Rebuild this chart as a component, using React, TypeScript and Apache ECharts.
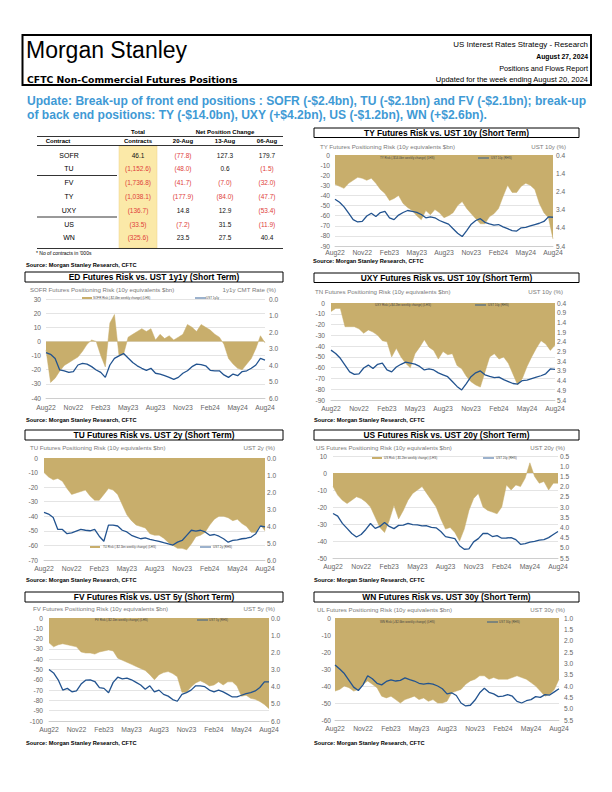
import React, { useEffect, useRef } from "react";
import * as echarts from "echarts";

const FONT = '"Liberation Sans", Arial, Helvetica, sans-serif';
const GOLD = "#c8ae6c";
const BLUE = "#22538f";
const RED = "#e0403a";
const TEXT_BLUE = "#3f9ad5";
const AXIS_GREY = "#666666";

// ---------- x axis (half-monthly observations) ----------
const DATES = [
  "2022-08-15", "2022-09-01", "2022-09-15", "2022-10-01", "2022-10-15", "2022-11-01", "2022-11-15", "2022-12-01", "2022-12-15",
  "2023-01-01", "2023-01-15", "2023-02-01", "2023-02-15", "2023-03-01", "2023-03-15", "2023-04-01", "2023-04-15", "2023-05-01",
  "2023-05-15", "2023-06-01", "2023-06-15", "2023-07-01", "2023-07-15", "2023-08-01", "2023-08-15", "2023-09-01", "2023-09-15",
  "2023-10-01", "2023-10-15", "2023-11-01", "2023-11-15", "2023-12-01", "2023-12-15", "2024-01-01", "2024-01-15", "2024-02-01",
  "2024-02-15", "2024-03-01", "2024-03-15", "2024-04-01", "2024-04-15", "2024-05-01", "2024-05-15", "2024-06-01", "2024-06-15",
  "2024-07-01", "2024-07-15", "2024-08-01", "2024-08-15",
];
const MONTH_NAMES = ["Jan", "Feb", "Mar", "Apr", "May", "Jun", "Jul", "Aug", "Sep", "Oct", "Nov", "Dec"];

// ---------- positioning risk ($bn, 10y equivalents) ----------
const SOFR_RISK = [-6, -29, -26, -21, -17, -15, -13, -11, -7, -2, 1, 0, -10, -18, 13, 19, -10, -9, 3, 5, 7, 9, 7, 9, 1, 5, 2, 4, 1, 3, 5, 12, 10, 7, 12, 10, 8, 5, 3, -2, -12, -16, -19, -20, -16, -12, -5, 4, -1];
const TY_RISK = [-29, -31, -33, -28, -25, -22, -23, -25, -23, -28, -34, -38, -45, -43, -40, -48, -52, -55, -60, -64, -55, -59, -54, -57, -62, -60, -57, -50, -46, -53, -58, -63, -68, -68, -61, -58, -53, -41, -30, -37, -37, -31, -28, -30, -34, -48, -57, -62, -83];
const UXY_RISK = [-8, -5, -5, -22, -22, -22, -24, -28, -25, -27, -30, -35, -36, -50, -42, -50, -56, -60, -47, -41, -34, -41, -44, -52, -45, -48, -47, -58, -61, -68, -73, -76, -78, -64, -50, -47, -52, -50, -56, -66, -76, -70, -59, -50, -42, -35, -38, -44, -39];
const TU_RISK = [-10, -13, -15, -14, -16, -21, -25, -24, -23, -22, -26, -29, -29, -25, -21, -22, -25, -32, -39, -43, -46, -47, -48, -52, -53, -53, -55, -58, -60, -62, -62, -63, -59, -54, -53, -51, -46, -42, -40, -40, -41, -43, -42, -45, -47, -51, -51, -46, -50];
const US_RISK = [-8, -13, -16, -18, -16, -14, -15, -17, -20, -26, -32, -35, -28, -19, -27, -22, -16, -12, -10, -8, -12, -16, -20, -27, -33, -32, -35, -40, -33, -22, -15, -12, -20, -22, -23, -24, -20, -7, -10, -7, -8, -3, 6, -2, -6, -5, -10, -6, -6];
const FV_RISK = [-24, -28, -26, -25, -26, -27, -28, -33, -34, -34, -35, -33, -32, -31, -32, -39, -41, -43, -45, -47, -49, -51, -55, -60, -55, -53, -52, -54, -57, -72, -72, -67, -63, -61, -63, -66, -65, -62, -65, -62, -62, -66, -76, -75, -78, -79, -81, -84, -88];
const WN_RISK = [-43, -42, -40, -41, -43, -42, -39, -37, -39, -41, -46, -47, -46, -48, -50, -48, -47, -46, -48, -47, -49, -48, -50, -50, -49, -44, -43, -42, -39, -37, -36, -34, -34, -36, -35, -36, -36, -36, -35, -34, -35, -36, -38, -40, -43, -46, -45, -42, -36];

// ---------- rates (%) ----------
const UST_1Y1Y = [3.25, 3.35, 3.6, 4.3, 4.35, 4.45, 4.4, 4.0, 3.9, 3.95, 4.1, 4.3, 4.45, 4.75, 4.0, 3.6, 3.45, 3.3, 3.58, 3.85, 4.05, 4.2, 4.32, 4.2, 4.5, 4.55, 4.65, 4.75, 4.87, 4.75, 4.5, 4.35, 4.1, 3.95, 3.98, 4.05, 4.32, 4.35, 4.35, 4.6, 4.75, 4.55, 4.65, 4.4, 4.35, 4.2, 4.0, 3.6, 3.7];
const UST_10Y = [2.83, 3.0, 3.25, 3.6, 3.95, 4.08, 4.05, 3.75, 3.6, 3.78, 3.56, 3.5, 3.85, 3.95, 3.7, 3.56, 3.45, 3.5, 3.55, 3.67, 3.85, 3.8, 3.85, 4.0, 4.1, 4.2, 4.45, 4.7, 4.88, 4.55, 4.2, 4.0, 3.9, 4.1, 4.18, 4.25, 4.22, 4.35, 4.45, 4.55, 4.58, 4.4, 4.38, 4.3, 4.22, 4.15, 4.05, 3.8, 3.82];
const UST_2Y = [3.2, 3.3, 3.5, 4.2, 4.2, 4.45, 4.4, 4.3, 4.2, 4.25, 4.28, 4.2, 4.6, 4.9, 3.95, 3.95, 4.0, 4.25, 4.35, 4.55, 4.65, 4.75, 4.7, 4.78, 4.85, 4.9, 4.98, 5.05, 5.12, 4.95, 4.85, 4.55, 4.25, 4.3, 4.25, 4.35, 4.55, 4.5, 4.6, 4.75, 4.95, 4.85, 4.82, 4.75, 4.72, 4.65, 4.45, 4.0, 4.05];
const UST_20Y = [3.32, 3.45, 3.8, 4.05, 4.3, 4.47, 4.35, 4.1, 3.81, 4.05, 3.95, 3.76, 3.95, 4.06, 3.9, 3.89, 3.8, 3.86, 3.88, 3.93, 3.92, 4.0, 4.02, 4.2, 4.45, 4.5, 4.55, 4.9, 5.07, 5.05, 4.71, 4.55, 4.3, 4.3, 4.45, 4.4, 4.53, 4.52, 4.5, 4.6, 4.83, 4.8, 4.72, 4.68, 4.62, 4.6, 4.5, 4.35, 4.2];
const UST_5Y = [3.0, 3.2, 3.6, 4.2, 4.1, 4.3, 4.25, 3.85, 3.62, 3.6, 3.7, 4.05, 4.1, 4.35, 3.75, 3.45, 3.55, 3.5, 3.6, 3.75, 3.9, 4.15, 3.95, 4.3, 4.2, 4.45, 4.55, 4.75, 4.85, 4.45, 4.35, 4.2, 3.95, 3.95, 4.0, 4.2, 4.3, 4.2, 4.3, 4.45, 4.6, 4.6, 4.5, 4.4, 4.35, 4.25, 4.05, 3.72, 3.72];
const UST_30Y = [3.07, 3.25, 3.45, 3.75, 4.05, 4.2, 3.95, 3.55, 3.68, 3.88, 3.95, 3.8, 3.73, 3.78, 3.75, 3.64, 3.72, 3.78, 3.88, 3.92, 3.88, 3.92, 4.0, 4.12, 4.35, 4.3, 4.42, 4.75, 4.88, 4.85, 4.62, 4.3, 4.1, 4.28, 4.35, 4.47, 4.45, 4.38, 4.45, 4.68, 4.75, 4.65, 4.6, 4.47, 4.5, 4.38, 4.4, 4.26, 4.12];

// ---------- right-axis tick labels ----------
const R_TICKS_TY = [0.4, 1.4, 2.4, 3.4, 4.4, 5.4];
const R_TICKS_UXY = [0.4, 0.9, 1.4, 1.9, 2.4, 2.9, 3.4, 3.9, 4.4, 4.9, 5.4];
const R_TICKS_0_6 = [0, 1, 2, 3, 4, 5, 6];
const R_TICKS_20Y = [0.5, 1.0, 1.5, 2.0, 2.5, 3.0, 3.5, 4.0, 4.5, 5.0, 5.5];
const R_TICKS_30Y = [1.0, 1.5, 2.0, 2.5, 3.0, 3.5, 4.0, 4.5, 5.0, 5.5];

// ---------- table ----------
const CONTRACTS = ["SOFR", "TU", "FV", "TY", "UXY", "US", "WN"];
const TOTAL_CONTRACTS = [46.1, -1152.6, -1736.8, -1038.1, -136.7, -33.5, -325.6];
const CHG_20AUG = [-77.8, -48.0, -41.7, -177.9, 14.8, -7.2, 23.5];
const CHG_13AUG = [127.3, 0.6, -7.0, -84.0, 12.9, 31.5, 27.5];
const CHG_06AUG = [179.7, -1.5, -32.0, -47.7, -53.4, -11.9, 40.4];
const CHG_HEADERS = ["20-Aug", "13-Aug", "06-Aug"];

const SOURCE = "Source: Morgan Stanley Research, CFTC";

type Panel = {
  title: string; sub: string; rTitle: string; riskName: string; rateName: string;
  risk: number[]; rate: number[]; lMin: number; lMax: number; rMin: number; rMax: number; rTicks: number[];
  box: number[]; grid: number[]; subX: number; subY: number; rTitleX: number; srcX: number; srcY: number;
  xMargin: number; lMargin: number; rMargin: number; leg: number[];
};

const PANELS: Panel[] = [
  {
    title: "TY Futures Risk vs. UST 10y (Short Term)", sub: "TY Futures Positioning Risk (10y equivalents $bn)", rTitle: "UST 10y (%)",
    riskName: "TY Risk (-$14.0bn weekly change) (LHS)", rateName: "UST 10y (RHS)",
    risk: TY_RISK, rate: UST_10Y, lMin: -90, lMax: 0, rMin: 0.4, rMax: 5.4, rTicks: R_TICKS_TY,
    box: [314, 128, 265, 9.5], grid: [335, 155, 218, 91], subX: 320, subY: 146, rTitleX: 566, srcX: 313, srcY: 261,
    xMargin: 3, lMargin: 5, rMargin: 3, leg: [158, 368, 380, 478, 491],
  },
  {
    title: "ED Futures Risk vs. UST 1y1y (Short Term)", sub: "SOFR Futures Positioning Risk (10y equivalents $bn)", rTitle: "1y1y CMT Rate (%)",
    riskName: "SOFR Risk (-$2.4bn weekly change) (LHS)", rateName: "UST 1y1y",
    risk: SOFR_RISK, rate: UST_1Y1Y, lMin: -40, lMax: 30, rMin: 0, rMax: 6, rTicks: R_TICKS_0_6,
    box: [25, 272, 258, 10], grid: [46, 299, 219, 99], subX: 30, subY: 289, rTitleX: 276, srcX: 26, srcY: 420,
    xMargin: 6, lMargin: 5, rMargin: 4, leg: [298, 82, 93, 195, 206],
  },
  {
    title: "UXY Futures Risk vs. UST 10y (Short Term)", sub: "TN Futures Positioning Risk (10y equivalents $bn)", rTitle: "UST 10y (%)",
    riskName: "UXY Risk (+$4.2bn weekly change) (LHS)", rateName: "UST 10y (RHS)",
    risk: UXY_RISK, rate: UST_10Y, lMin: -90, lMax: 0, rMin: 0.4, rMax: 5.4, rTicks: R_TICKS_UXY,
    box: [314, 273, 265, 9.5], grid: [331, 303, 224, 97], subX: 315, subY: 291, rTitleX: 563, srcX: 314, srcY: 420,
    xMargin: 4.5, lMargin: 6, rMargin: 2, leg: [305, 363, 375, 475, 488],
  },
  {
    title: "TU Futures Risk vs. UST 2y (Short Term)", sub: "TU Futures Positioning Risk (10y equivalents $bn)", rTitle: "UST 2y (%)",
    riskName: "TU Risk (-$2.1bn weekly change) (LHS)", rateName: "UST 2y (RHS)",
    risk: TU_RISK, rate: UST_2Y, lMin: -70, lMax: 0, rMin: 0, rMax: 6, rTicks: R_TICKS_0_6,
    box: [25, 430, 258, 10], grid: [44, 458, 221, 102], subX: 30, subY: 447, rTitleX: 275, srcX: 26, srcY: 580,
    xMargin: 4.5, lMargin: 6, rMargin: 2, leg: [547, 90, 103, 200, 213],
  },
  {
    title: "US Futures Risk vs. UST 20y (Short Term)", sub: "US Futures Positioning Risk (10y equivalents $bn)", rTitle: "UST 20y (%)",
    riskName: "US Risk (-$1.2bn weekly change) (LHS)", rateName: "UST 20y (RHS)",
    risk: US_RISK, rate: UST_20Y, lMin: -50, lMax: 10, rMin: 0.5, rMax: 5.5, rTicks: R_TICKS_20Y,
    box: [314, 430, 265, 10], grid: [333, 456, 225, 102], subX: 316, subY: 447, rTitleX: 565, srcX: 314, srcY: 580,
    xMargin: 4.5, lMargin: 6, rMargin: 2, leg: [458, 372, 384, 483, 496],
  },
  {
    title: "FV Futures Risk vs. UST 5y (Short Term)", sub: "FV Futures Positioning Risk (10y equivalents $bn)", rTitle: "UST 5y (%)",
    riskName: "FV Risk (-$2.1bn weekly change) (LHS)", rateName: "UST 5y (RHS)",
    risk: FV_RISK, rate: UST_5Y, lMin: -100, lMax: 0, rMin: 0, rMax: 6, rTicks: R_TICKS_0_6,
    box: [25, 592, 258, 10], grid: [49, 618, 220, 103], subX: 33, subY: 608, rTitleX: 275, srcX: 26, srcY: 743,
    xMargin: 4.5, lMargin: 6, rMargin: 2, leg: [620, 83, 95, 197, 209],
  },
  {
    title: "WN Futures Risk vs. UST 30y (Short Term)", sub: "UL Futures Positioning Risk (10y equivalents $bn)", rTitle: "UST 30y (%)",
    riskName: "WN Risk (+$2.6bn weekly change) (LHS)", rateName: "UST 30y (RHS)",
    risk: WN_RISK, rate: UST_30Y, lMin: -60, lMax: 0, rMin: 1.0, rMax: 5.5, rTicks: R_TICKS_30Y,
    box: [314, 592, 265, 10], grid: [335, 618, 224, 102], subX: 317, subY: 609, rTitleX: 565, srcX: 314, srcY: 743,
    xMargin: 5, lMargin: 4, rMargin: 5, leg: [622, 368, 380, 487, 499],
  },
];

type TextOpt = { size?: number; bold?: boolean; fill?: string; align?: string; family?: string; z?: number };
function txt(x: number, y: number, text: string, o: TextOpt = {}) {
  const align = o.align ?? "left";
  return {
    type: "text", x, y, z: o.z ?? 10, silent: true,
    style: {
      text, fill: o.fill ?? "#000", fontSize: o.size ?? 7, fontWeight: o.bold ? "bold" : "normal",
      fontFamily: o.family ?? FONT, align, textAlign: align, verticalAlign: "middle", textVerticalAlign: "middle",
    },
  };
}
function rect(x: number, y: number, w: number, h: number, style: any, z = 5) {
  return { type: "rect", z, silent: true, shape: { x, y, width: w, height: h }, style };
}
function hline(x1: number, x2: number, y: number, lw = 0.8, color = "#000", z = 10) {
  return { type: "line", z, silent: true, shape: { x1, y1: y, x2, y2: y }, style: { stroke: color, lineWidth: lw } };
}
function fmtNum(v: number) {
  const s = Math.abs(v).toLocaleString("en-US", { minimumFractionDigits: 1, maximumFractionDigits: 1 });
  return v < 0 ? `(${s})` : s;
}

function buildOption() {
  const grid: any[] = [];
  const xAxis: any[] = [];
  const yAxis: any[] = [];
  const series: any[] = [];
  const g: any[] = [];

  // ---- header ----
  g.push(rect(22.5, 35, 568.5, 50, { fill: "none", stroke: "#000", lineWidth: 2 }));
  g.push(txt(26, 50, "Morgan Stanley", { size: 23 }));
  g.push(txt(27, 79.5, "CFTC Non-Commercial Futures Positions", { size: 9.3, bold: true, family: '"DejaVu Sans", Verdana, sans-serif' }));
  g.push(txt(588, 44.5, "US Interest Rates Strategy - Research", { size: 7.9, align: "right" }));
  g.push(txt(588, 56.5, "August 27, 2024", { size: 6.8, bold: true, align: "right" }));
  g.push(txt(588, 68, "Positions and Flows Report", { size: 7.3, align: "right" }));
  g.push(txt(588, 79.5, "Updated for the week ending August 20, 2024", { size: 7.5, align: "right" }));
  g.push(txt(27, 101, "Update: Break-up of front end positions : SOFR (-$2.4bn), TU (-$2.1bn) and FV (-$2.1bn); break-up", { size: 12.1, bold: true, fill: TEXT_BLUE }));
  g.push(txt(27, 114.5, "of back end positions: TY (-$14.0bn), UXY (+$4.2bn), US (-$1.2bn), WN (+$2.6bn).", { size: 12.1, bold: true, fill: TEXT_BLUE }));

  // ---- table ----
  const colX = [69, 138, 183, 225, 267];
  g.push(rect(119, 146, 38, 102, { fill: "#fbe9a8", stroke: "#ecd38a", lineWidth: 0.5 }, 4));
  g.push(txt(colX[1], 132, "Total", { size: 6, bold: true, align: "center" }));
  g.push(txt(225, 132, "Net Position Change", { size: 6, bold: true, align: "center" }));
  g.push(hline(37, 283, 136.5));
  g.push(txt(58, 141, "Contract", { size: 6, bold: true, align: "center" }));
  g.push(txt(colX[1], 141, "Contracts", { size: 6, bold: true, align: "center" }));
  CHG_HEADERS.forEach((h, k) => g.push(txt(colX[2 + k], 141, h, { size: 6, bold: true, align: "center" })));
  g.push(hline(37, 283, 145.5));
  CONTRACTS.forEach((c, r) => {
    const y = 155 + r * 13.8;
    g.push(txt(colX[0], y, c, { size: 7, align: "center" }));
    [TOTAL_CONTRACTS[r], CHG_20AUG[r], CHG_13AUG[r], CHG_06AUG[r]].forEach((v, k) => {
      g.push(txt(colX[1 + k], y, fmtNum(v), { size: 6.5, align: "center", fill: v < 0 ? RED : "#111" }));
    });
  });
  g.push(hline(37, 117, 175.5));
  g.push(hline(37, 117, 217));
  g.push(hline(37, 283, 248.5));
  g.push(txt(36, 253, "* No of contracts in '000s", { size: 5, bold: false }));
  g.push(txt(26, 265, SOURCE, { size: 5.7, bold: true }));

  // ---- chart panels ----
  PANELS.forEach((p, i) => {
    const [gl, gt, gw, gh] = p.grid;
    grid.push({ left: gl, top: gt, width: gw, height: gh, containLabel: false });
    xAxis.push({
      type: "category", gridIndex: i, data: DATES, boundaryGap: false,
      axisLine: { onZero: false, lineStyle: { color: "#c8c8c8", width: 0.8 } },
      axisTick: { show: false }, splitLine: { show: false },
      axisLabel: {
        interval: 5, margin: p.xMargin, fontSize: 6.8, color: AXIS_GREY, fontFamily: FONT,
        formatter: (v: string) => {
          const parts = v.split("-");
          return MONTH_NAMES[Number(parts[1]) - 1] + parts[0].slice(2);
        },
      },
    });
    yAxis.push({
      type: "value", gridIndex: i, position: "left", min: p.lMin, max: p.lMax, interval: 10,
      axisLine: { show: false }, axisTick: { show: false },
      splitLine: { show: true, lineStyle: { color: "#d9d9d9", width: 0.7 } },
      axisLabel: { margin: p.lMargin, fontSize: 6.6, color: AXIS_GREY, fontFamily: FONT },
    });
    yAxis.push({
      type: "value", gridIndex: i, position: "right", min: p.rMin, max: p.rMax, inverse: true,
      axisLine: { show: false }, axisTick: { show: false }, splitLine: { show: false },
      axisLabel: {
        customValues: p.rTicks, margin: p.rMargin, fontSize: 6.6, color: AXIS_GREY, fontFamily: FONT,
        formatter: (v: number) => Number(v).toFixed(1),
      },
    });
    series.push({
      type: "line", name: p.riskName, xAxisIndex: i, yAxisIndex: 2 * i, data: p.risk, symbol: "none",
      lineStyle: { width: 0.5, color: GOLD }, itemStyle: { color: GOLD }, areaStyle: { color: GOLD, opacity: 1 },
      z: 2, silent: true,
    });
    series.push({
      type: "line", name: p.rateName, xAxisIndex: i, yAxisIndex: 2 * i + 1, data: p.rate, symbol: "none",
      lineStyle: { width: 1.3, color: BLUE }, itemStyle: { color: BLUE }, z: 3, silent: true,
    });

    const [bx, by, bw, bh] = p.box;
    g.push(rect(bx, by, bw, bh, { fill: "#fff", stroke: "#000", lineWidth: 1 }));
    g.push(txt(bx + bw / 2, by + bh / 2 + 0.3, p.title, { size: 8.4, bold: true, align: "center" }));
    g.push(txt(p.subX, p.subY, p.sub, { size: 6.1, fill: "#7a7a7a" }));
    g.push(txt(p.rTitleX, p.subY, p.rTitle, { size: 6.1, fill: "#7a7a7a", align: "right" }));
    g.push(txt(p.srcX, p.srcY, SOURCE, { size: 5.7, bold: true }));

    const [ly, sw, tx, lw, lt] = p.leg;
    g.push(rect(sw, ly - 1, 10, 2, { fill: GOLD }, 50));
    g.push(txt(tx, ly, p.riskName, { size: 3, fill: "#444", z: 50 }));
    g.push({ type: "line", z: 50, silent: true, shape: { x1: lw, y1: ly, x2: lw + 11, y2: ly }, style: { stroke: BLUE, lineWidth: 0.9 } });
    g.push(txt(lt, ly, p.rateName, { size: 3, fill: "#444", z: 50 }));
  });

  return {
    animation: false,
    backgroundColor: "#ffffff",
    textStyle: { fontFamily: FONT },
    grid, xAxis, yAxis, series,
    graphic: { elements: g },
  };
}

export default function App() {
  const ref = useRef<HTMLDivElement>(null);
  useEffect(() => {
    if (!ref.current) return;
    const chart = echarts.init(ref.current, null, { renderer: "svg", width: 612, height: 792 });
    chart.setOption(buildOption() as any);
    return () => chart.dispose();
  }, []);
  return (
    <div
      ref={ref}
      style={{ position: "absolute", left: 0, top: 0, width: 612, height: 792, background: "#fff" }}
    />
  );
}
